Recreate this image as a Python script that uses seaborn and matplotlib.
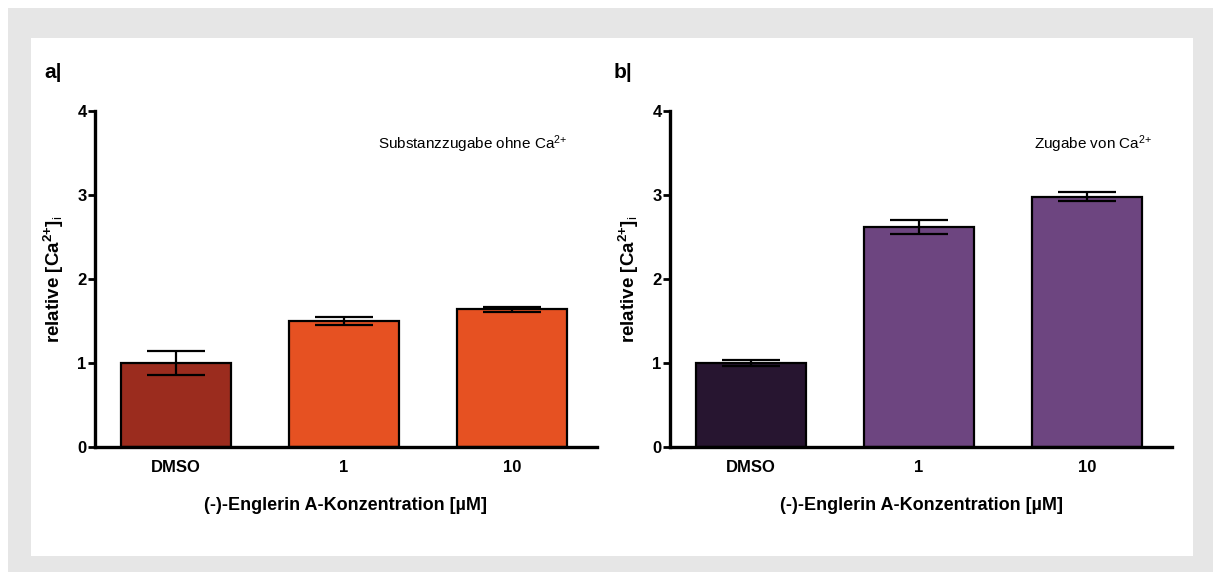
import matplotlib
matplotlib.use("Agg")
import matplotlib.pyplot as plt
from matplotlib.patches import Rectangle
import seaborn as sns
import pandas as pd

# Data
categories = ["DMSO", "1", "10"]
values_a = [1.00, 1.50, 1.64]
errors_a = [0.14, 0.05, 0.03]
values_b = [1.00, 2.62, 2.98]
errors_b = [0.04, 0.08, 0.05]
colors_a = ["#9b2c1e", "#e65122", "#e65122"]
colors_b = ["#271530", "#6d4580", "#6d4580"]
yticks = [0, 1, 2, 3, 4]
xlabel = "(-)-Englerin A-Konzentration [µM]"
ylabel = r"relative [Ca$^{\mathbf{2{+}}}$]$_\mathrm{i}$"
note_a = r"Substanzzugabe ohne Ca$^{2{+}}$"
note_b = r"Zugabe von Ca$^{2{+}}$"

sns.set_theme(style="white")
plt.rcParams["font.family"] = ["Liberation Sans", "DejaVu Sans"]
plt.rcParams["mathtext.fontset"] = "custom"
plt.rcParams["mathtext.rm"] = "Liberation Sans"
plt.rcParams["mathtext.it"] = "Liberation Sans:italic"
plt.rcParams["mathtext.bf"] = "Liberation Sans:bold"
for key in ["text.color", "axes.labelcolor", "xtick.color", "ytick.color"]:
    plt.rcParams[key] = "black"

W, H = 1213, 572
fig = plt.figure(figsize=(W / 100, H / 100), dpi=100)
fig.patch.set_facecolor("white")

# Framed background: grey border with a white panel inside
fig.patches.append(Rectangle((8 / W, 0), 1 - 8 / W, 1 - 8 / H, transform=fig.transFigure,
                             facecolor="#e6e6e6", edgecolor="none", zorder=-2))
fig.patches.append(Rectangle((31 / W, 1 - 556 / H), (1193 - 31) / W, (556 - 38) / H,
                             transform=fig.transFigure, facecolor="white",
                             edgecolor="none", zorder=-1))

bottom = 1 - 447 / H
height = (447 - 111) / H
ax_a = fig.add_axes([95 / W, bottom, 502 / W, height])
ax_b = fig.add_axes([670 / W, bottom, 502 / W, height])


def draw_panel(ax, vals, errs, cols, note, note_x, letter, letter_x):
    df = pd.DataFrame({"conc": categories, "val": vals})
    sns.barplot(data=df, x="conc", y="val", hue="conc", palette=cols,
                order=categories, hue_order=categories, legend=False,
                errorbar=None, width=0.66, edgecolor="black", linewidth=1.6,
                saturation=1, ax=ax)
    ax.errorbar(range(len(vals)), vals, yerr=errs, fmt="none", ecolor="black",
                elinewidth=1.6, capsize=21, capthick=1.6, zorder=5)
    ax.set_facecolor("none")
    ax.set_xlim(-0.482, 2.506)
    ax.set_ylim(0, 4)
    ax.set_yticks(yticks)
    ax.set_yticklabels([str(t) for t in yticks], fontsize=12, fontweight="bold")
    ax.set_xticks(range(len(categories)))
    ax.set_xticklabels(categories, fontsize=12, fontweight="bold")
    ax.tick_params(axis="y", left=True, length=5, width=2, pad=1, color="black")
    ax.tick_params(axis="x", bottom=False, length=0, pad=9)
    for s in ["top", "right"]:
        ax.spines[s].set_visible(False)
    for s in ["left", "bottom"]:
        ax.spines[s].set_color("black")
        ax.spines[s].set_linewidth(2.4)
    ax.set_xlabel(xlabel, fontsize=13, fontweight="bold", labelpad=16)
    ax.set_ylabel(ylabel, fontsize=13.5, fontweight="bold", labelpad=8)
    ax.text(note_x, 3.6, note, transform=ax.transData,
            fontsize=11, ha="right", va="center")
    fig.text(letter_x / W, 1 - 72 / H, letter, fontsize=15, fontweight="bold",
             ha="left", va="center")


draw_panel(ax_a, values_a, errors_a, colors_a, note_a, 2.33, "a|", 44)
draw_panel(ax_b, values_b, errors_b, colors_b, note_b, 2.39, "b|", 614)

fig.savefig("out.png", dpi=100)
